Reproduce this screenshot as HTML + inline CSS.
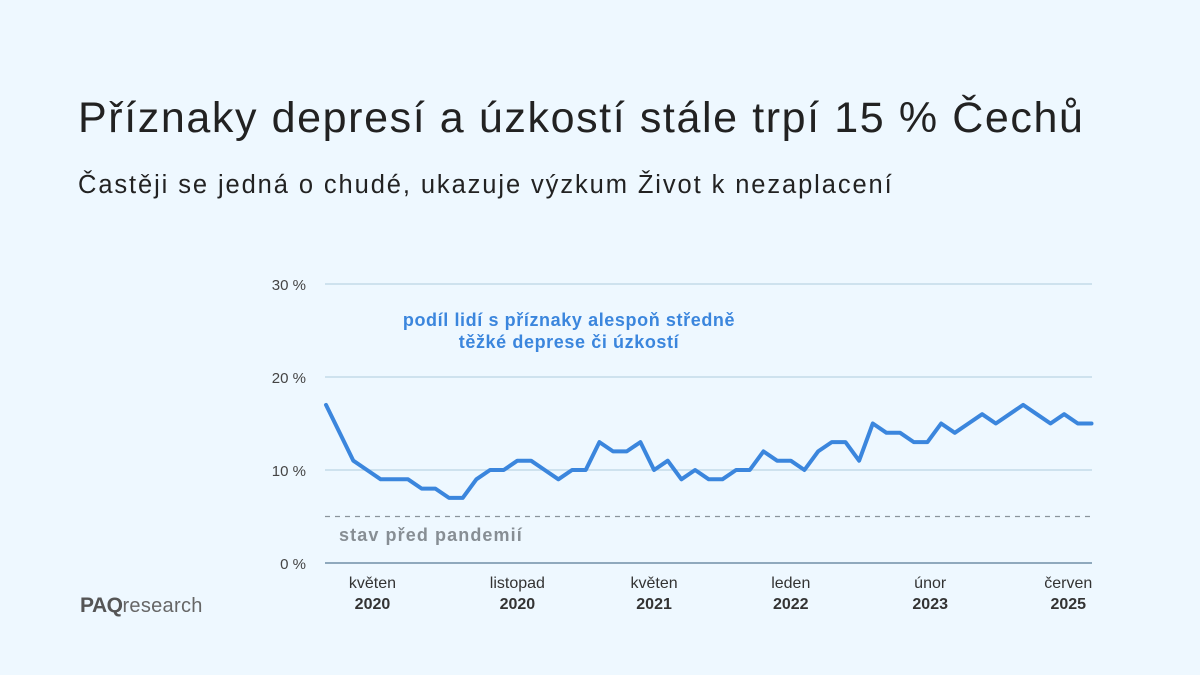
<!DOCTYPE html>
<html><head><meta charset="utf-8">
<style>
body{margin:0;width:1200px;height:675px;background:#eef8ff;font-family:"Liberation Sans",sans-serif;overflow:hidden;position:relative}
.t{position:absolute;white-space:nowrap}
</style></head><body>
<div class="t" style="left:78px;top:94px;font-size:43px;letter-spacing:1.6px;color:#222">Příznaky depresí a úzkostí stále trpí 15 % Čechů</div>
<div class="t" style="left:78px;top:171px;font-size:25.5px;letter-spacing:1.9px;color:#222">Častěji se jedná o chudé, ukazuje výzkum Život k nezaplacení</div>
<div class="t" style="left:80px;top:594px;font-size:21px;color:#555"><b style="letter-spacing:-0.5px">PAQ</b><span style="font-size:20px;color:#666;letter-spacing:0.3px">research</span></div>
<svg id="chart" width="1200" height="675" style="position:absolute;left:0;top:0"></svg>
<script>
const values=[17,14,11,10,9,9,9,8,8,7,7,9,10,10,11,11,10,9,10,10,13,12,12,13,10,11,9,10,9,9,10,10,12,11,11,10,12,13,13,11,15,14,14,13,13,15,14,15,16,15,16,17,16,15,16,15,15];
const yTicks=[0,10,20,30];
const xTickIdx=[3.4,14,24,34,44.2,54.3];
const xTickMonth=["květen","listopad","květen","leden","únor","červen"];
const xTickYear=["2020","2020","2021","2022","2023","2025"];
const baseline=5;
const NS="http://www.w3.org/2000/svg";
const svg=document.getElementById('chart');
const x=i=>326+i*(1091.5-326)/(values.length-1);
const y=v=>563-v*9.3;
function mk(t,a,txt){const e=document.createElementNS(NS,t);for(const k in a)e.setAttribute(k,a[k]);if(txt!=null)e.textContent=txt;svg.appendChild(e);return e;}
yTicks.forEach(v=>{
 const l=mk('line',{x1:325,x2:1092,y1:y(v),y2:y(v),stroke:v===0?'#8fa9bd':'#bcd4e4','stroke-width':v===0?2:1.2});
 
 
 const t=mk('text',{x:306,y:y(v)+6,'text-anchor':'end','font-size':15,fill:'#444','font-family':'Liberation Sans'},v+' %');
 
 
});
const d=mk('line',{x1:325,x2:1092,y1:y(baseline),y2:y(baseline),stroke:'#8a949c','stroke-width':1.2,'stroke-dasharray':'5,5'});


const dl=mk('text',{x:339,y:541,'font-size':18,'font-weight':'bold','letter-spacing':1.1,fill:'#878e94','font-family':'Liberation Sans'},'stav před pandemií');


xTickIdx.forEach((i,k)=>{
 const a=mk('text',{x:x(i),y:588,'text-anchor':'middle','font-size':16,fill:'#333','font-family':'Liberation Sans'},xTickMonth[k]);
 
 
 const b=mk('text',{x:x(i),y:609,'text-anchor':'middle','font-size':16,'font-weight':'bold',fill:'#333','font-family':'Liberation Sans'},xTickYear[k]);
 
 
});
const p=mk('polyline',{points:values.map((v,i)=>x(i)+','+y(v)).join(' '),fill:'none',stroke:'#3b86dd','stroke-width':4,'stroke-linejoin':'round','stroke-linecap':'round'});


const s1=mk('text',{x:569,y:326,'text-anchor':'middle','font-size':18,'font-weight':'bold','letter-spacing':0.6,fill:'#3b86dd','font-family':'Liberation Sans'},'podíl lidí s příznaky alespoň středně');


const s2=mk('text',{x:569,y:348,'text-anchor':'middle','font-size':18,'font-weight':'bold','letter-spacing':0.6,fill:'#3b86dd','font-family':'Liberation Sans'},'těžké deprese či úzkostí');


</script>
</body></html>
